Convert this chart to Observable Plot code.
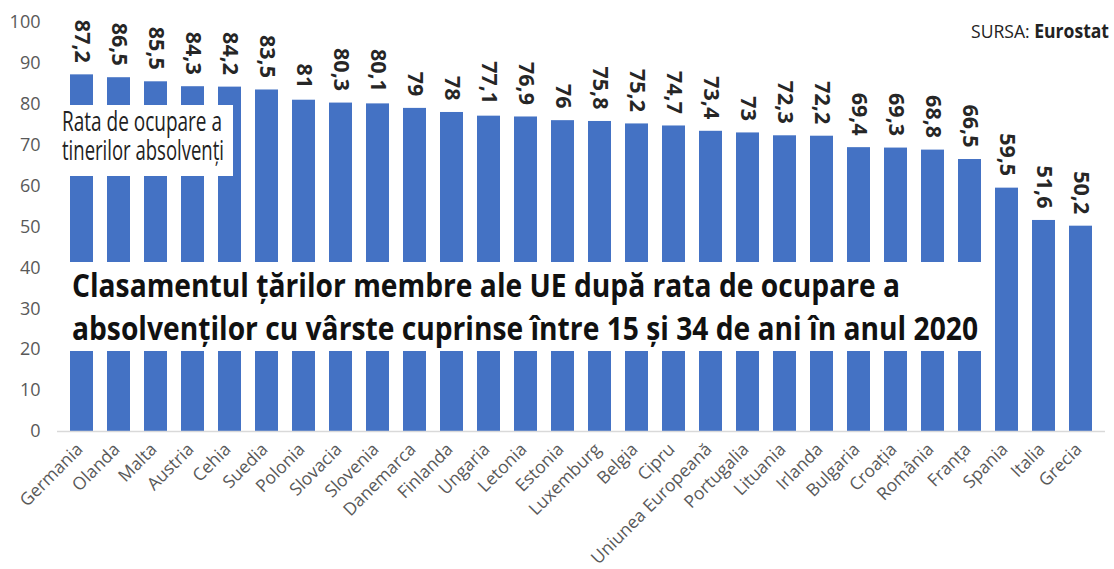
<!DOCTYPE html>
<html><head><meta charset="utf-8">
<script src="https://cdn.jsdelivr.net/npm/d3@7"></script>
<script src="https://cdn.jsdelivr.net/npm/@observablehq/plot@0.6"></script>
<style>body{margin:0;background:#fff} #chart{position:relative;width:1114px;height:569px}</style>
</head><body><div id="chart"></div>
<script>
const countries = ["Germania","Olanda","Malta","Austria","Cehia","Suedia","Polonia","Slovacia","Slovenia","Danemarca","Finlanda","Ungaria","Letonia","Estonia","Luxemburg","Belgia","Cipru","Uniunea Europeană","Portugalia","Lituania","Irlanda","Bulgaria","Croația","România","Franța","Spania","Italia","Grecia"];
const values = [87.2,86.5,85.5,84.3,84.2,83.5,81,80.3,80.1,79,78,77.1,76.9,76,75.8,75.2,74.7,73.4,73,72.3,72.2,69.4,69.3,68.8,66.5,59.5,51.6,50.2];
const yTicks = [0,10,20,30,40,50,60,70,80,90,100];
const titleLines = ["Clasamentul țărilor membre ale UE după rata de ocupare a","absolvenților cu vârste cuprinse între 15 și 34 de ani în anul 2020"];
const boxLines = ["Rata de ocupare a","tinerilor absolvenți"];
const sourceLabel = "SURSA: ";
const sourceName = "Eurostat";

const data = countries.map((c,i)=>({country:c, value:values[i]}));
const fmt = v => String(v).replace(".", ",");

const chart = Plot.plot({
  width:1114, height:569, marginTop:22, marginBottom:138, marginLeft:57, marginRight:9,
  style:{fontFamily:"'Open Sans', sans-serif", background:"#fff"},
  x:{domain:countries, paddingInner:0.377, paddingOuter:0.2, label:null},
  y:{domain:[0,100], label:null},
  marks:[
    Plot.barY(data,{x:"country", y:"value", fill:"#4472C4"}),
    Plot.ruleY([0],{stroke:"#d9d9d9", strokeWidth:1.5}),
    Plot.axisY(yTicks,{tickSize:0, tickPadding:17, fontSize:18, fill:"#595959", label:null}),
    Plot.axisX({tickSize:0, tickRotate:-45, tickPadding:15, dx:-2, fontSize:17.5, fill:"#595959", label:null}),
    Plot.text(data,{x:"country", y:"value", text:d=>fmt(d.value), rotate:90, textAnchor:"end", dy:-12, fontSize:21.5, fontWeight:700, fill:"#262626"})
  ]
});
document.getElementById("chart").appendChild(chart);

const svg = d3.select(chart);
const g = svg.append("g").attr("font-family","'Open Sans', sans-serif").attr("text-anchor","start");
// title box
g.append("rect").attr("x",60).attr("y",262).attr("width",926).attr("height",89).attr("fill","#fff");
const tl = [[72,297,828],[72,340,906]];
titleLines.forEach((t,i)=>{
  g.append("text").attr("x",tl[i][0]).attr("y",tl[i][1]).attr("font-size",32).attr("font-weight",700)
   .attr("fill","#111").attr("textLength",tl[i][2]).attr("lengthAdjust","spacingAndGlyphs").text(t);
});
// label box
g.append("rect").attr("x",57).attr("y",105).attr("width",176).attr("height",71).attr("fill","#fff");
const bl = [[62,131,160],[62,160,162]];
boxLines.forEach((t,i)=>{
  g.append("text").attr("x",bl[i][0]).attr("y",bl[i][1]).attr("font-size",28).attr("font-weight",400)
   .attr("fill","#222").attr("textLength",bl[i][2]).attr("lengthAdjust","spacingAndGlyphs").text(t);
});
// source
const st = g.append("text").attr("x",971).attr("y",38).attr("font-size",19).attr("fill","#222")
  .attr("textLength",138).attr("lengthAdjust","spacingAndGlyphs");
st.append("tspan").text(sourceLabel);
st.append("tspan").attr("font-weight",700).text(sourceName);
</script>
</body></html>
